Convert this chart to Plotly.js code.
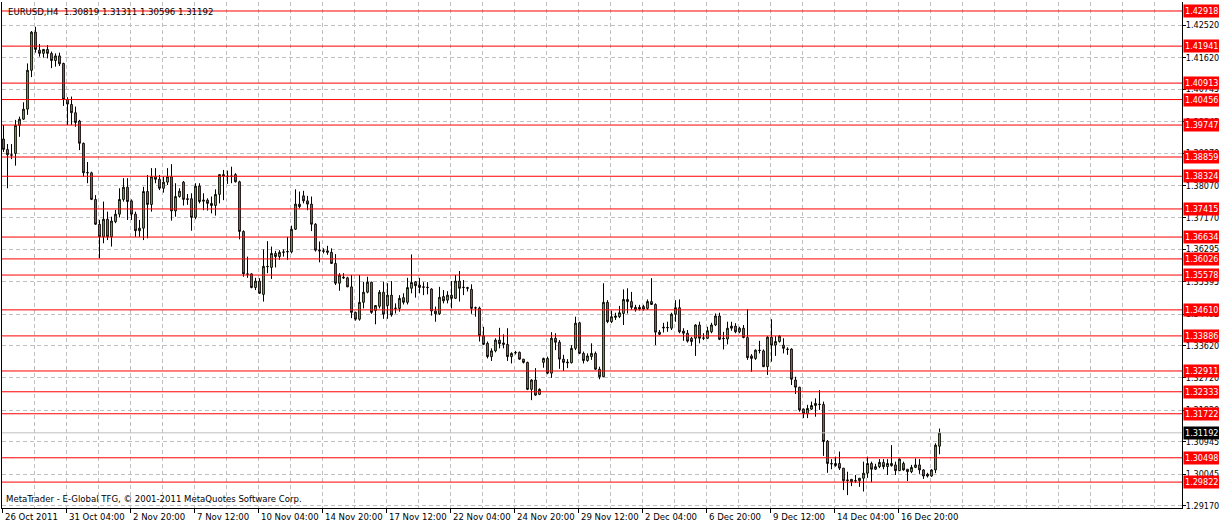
<!DOCTYPE html>
<html><head><meta charset="utf-8">
<script src="https://cdn.plot.ly/plotly-3.0.1.min.js"></script>
<style>html,body{margin:0;padding:0;background:#fff;overflow:hidden}#chart{width:1219px;height:524px}</style>
</head><body><div id="chart"></div>
<script>
const symbolTitle = "EURUSD,H4\u00a0\u00a01.30819 1.31311 1.30596 1.31192";
const footerText = "MetaTrader - E-Global TFG, \u00a9 2001-2011 MetaQuotes Software Corp.";

const openP = [1.3936,1.3907,1.3892,1.3896,1.3974,1.3991,1.4019,1.4127,1.4233,1.4183,
1.4174,1.4185,1.4174,1.4154,1.4167,1.4146,1.4046,1.4032,1.4009,1.3986,
1.3924,1.3843,1.3842,1.3768,1.3699,1.3664,1.3713,1.3664,1.3706,1.3727,
1.3768,1.3802,1.3764,1.3727,1.3681,1.3688,1.3790,1.3754,1.3831,1.3824,
1.3799,1.3816,1.3831,1.3736,1.3776,1.3816,1.3770,1.3770,1.3718,1.3805,
1.3763,1.3766,1.3757,1.3751,1.3782,1.3837,1.3833,1.3832,1.3837,1.3817,
1.3679,1.3561,1.3561,1.3523,1.3541,1.3504,1.3582,1.3579,1.3618,1.3609,
1.3621,1.3622,1.3622,1.3685,1.3755,1.3778,1.3764,1.3755,1.3699,1.3627,
1.3625,1.3625,1.3621,1.3590,1.3535,1.3552,1.3550,1.3525,1.3454,1.3435,
1.3482,1.3510,1.3538,1.3459,1.3471,1.3510,1.3473,1.3502,1.3466,1.3465,
1.3495,1.3482,1.3521,1.3539,1.3530,1.3525,1.3524,1.3519,1.3458,1.3450,
1.3498,1.3488,1.3502,1.3493,1.3541,1.3524,1.3523,1.3518,1.3467,1.3466,
1.3389,1.3368,1.3331,1.3347,1.3377,1.3369,1.3365,1.3331,1.3343,1.3343,
1.3324,1.3315,1.3240,1.3266,1.3226,1.3315,1.3326,1.3285,1.3382,1.3371,
1.3324,1.3316,1.3314,1.3354,1.3425,1.3340,1.3320,1.3331,1.3340,1.3296,
1.3275,1.3482,1.3428,1.3440,1.3442,1.3451,1.3490,1.3484,1.3468,1.3468,
1.3470,1.3465,1.3484,1.3476,1.3399,1.3413,1.3411,1.3410,1.3449,1.3467,
1.3402,1.3396,1.3382,1.3382,1.3419,1.3383,1.3382,1.3400,1.3419,1.3444,
1.3382,1.3380,1.3416,1.3416,1.3400,1.3410,1.3384,1.3333,1.3326,1.3349,
1.3347,1.3303,1.3385,1.3363,1.3373,1.3363,1.3352,1.3352,1.3266,1.3246,
1.3185,1.3172,1.3185,1.3195,1.3199,1.3198,1.3096,1.3034,1.3034,1.3034,
1.3021,1.2986,1.2990,1.2985,1.2986,1.2993,1.3007,1.3034,1.3018,1.3025,
1.3037,1.3025,1.3034,1.3030,1.3014,1.3034,1.3018,1.3011,1.3023,1.3030,
1.3016,1.3004,1.2999,1.3016,1.30819];

const highP = [1.3975,1.3922,1.3922,1.3989,1.3998,1.4038,1.4146,1.4236,1.4248,1.4200,
1.4185,1.4197,1.4179,1.4174,1.4176,1.4148,1.4052,1.4054,1.4026,1.3989,
1.3926,1.3872,1.3845,1.3780,1.3711,1.3762,1.3734,1.3720,1.3739,1.3799,
1.3827,1.3827,1.3768,1.3734,1.3711,1.3803,1.3836,1.3855,1.3855,1.3836,
1.3831,1.3855,1.3866,1.3813,1.3799,1.3819,1.3783,1.3785,1.3813,1.3813,
1.3785,1.3771,1.3776,1.3796,1.3837,1.3850,1.3848,1.3859,1.3841,1.3820,
1.3682,1.3609,1.3563,1.3550,1.3549,1.3629,1.3652,1.3637,1.3625,1.3627,
1.3629,1.3664,1.3695,1.3796,1.3790,1.3792,1.3778,1.3776,1.3702,1.3651,
1.3632,1.3639,1.3632,1.3616,1.3563,1.3563,1.3553,1.3558,1.3456,1.3558,
1.3539,1.3553,1.3539,1.3473,1.3516,1.3539,1.3535,1.3541,1.3479,1.3502,
1.3507,1.3550,1.3615,1.3541,1.3550,1.3538,1.3538,1.3521,1.3470,1.3525,
1.3516,1.3513,1.3541,1.3558,1.3569,1.3544,1.3525,1.3532,1.3470,1.3470,
1.3414,1.3373,1.3354,1.3382,1.3411,1.3393,1.3410,1.3343,1.3347,1.3345,
1.3324,1.3317,1.3268,1.3299,1.3243,1.3328,1.3331,1.3399,1.3396,1.3377,
1.3336,1.3324,1.3363,1.3442,1.3428,1.3345,1.3340,1.3368,1.3345,1.3303,
1.3535,1.3488,1.3459,1.3453,1.3472,1.3518,1.3521,1.3511,1.3475,1.3475,
1.3475,1.3490,1.3549,1.3479,1.3405,1.3425,1.3428,1.3453,1.3488,1.3490,
1.3410,1.3405,1.3386,1.3421,1.3428,1.3396,1.3414,1.3425,1.3451,1.3453,
1.3400,1.3428,1.3428,1.3424,1.3414,1.3419,1.3463,1.3338,1.3351,1.3375,
1.3351,1.3388,1.3435,1.3388,1.3391,1.3382,1.3357,1.3354,1.3275,1.3247,
1.3187,1.3197,1.3206,1.3215,1.3238,1.3206,1.3099,1.3046,1.3053,1.3067,
1.3021,1.3011,1.2990,1.3002,1.2993,1.3039,1.3053,1.3039,1.3033,1.3046,
1.3046,1.3046,1.3085,1.3039,1.3048,1.3039,1.3018,1.3030,1.3048,1.3046,
1.3018,1.3008,1.3018,1.3090,1.31311];

const lowP = [1.3900,1.3799,1.3880,1.3862,1.3942,1.3989,1.4003,1.4108,1.4176,1.4165,
1.4162,1.4160,1.4133,1.4137,1.4139,1.4028,1.3975,1.3975,1.3970,1.3905,
1.3831,1.3813,1.3766,1.3697,1.3604,1.3646,1.3655,1.3637,1.3702,1.3718,
1.3762,1.3711,1.3711,1.3664,1.3664,1.3655,1.3660,1.3734,1.3813,1.3794,
1.3787,1.3808,1.3709,1.3720,1.3773,1.3751,1.3753,1.3681,1.3713,1.3757,
1.3738,1.3737,1.3729,1.3723,1.3757,1.3766,1.3811,1.3813,1.3815,1.3657,
1.3553,1.3550,1.3521,1.3516,1.3505,1.3484,1.3563,1.3547,1.3579,1.3600,
1.3609,1.3600,1.3618,1.3683,1.3743,1.3757,1.3738,1.3680,1.3623,1.3593,
1.3618,1.3614,1.3589,1.3530,1.3514,1.3547,1.3524,1.3438,1.3431,1.3431,
1.3465,1.3507,1.3450,1.3421,1.3465,1.3436,1.3436,1.3442,1.3451,1.3456,
1.3476,1.3476,1.3507,1.3495,1.3507,1.3502,1.3504,1.3445,1.3428,1.3447,
1.3479,1.3479,1.3465,1.3491,1.3484,1.3502,1.3512,1.3450,1.3442,1.3373,
1.3363,1.3326,1.3319,1.3343,1.3354,1.3354,1.3319,1.3312,1.3337,1.3322,
1.3312,1.3238,1.3210,1.3222,1.3224,1.3300,1.3282,1.3272,1.3349,1.3297,
1.3291,1.3299,1.3312,1.3349,1.3338,1.3312,1.3317,1.3322,1.3294,1.3268,
1.3274,1.3424,1.3424,1.3433,1.3438,1.3419,1.3451,1.3461,1.3456,1.3459,
1.3459,1.3461,1.3475,1.3363,1.3391,1.3398,1.3400,1.3405,1.3428,1.3396,
1.3375,1.3370,1.3361,1.3333,1.3368,1.3377,1.3380,1.3396,1.3416,1.3377,
1.3351,1.3365,1.3403,1.3396,1.3396,1.3382,1.3322,1.3289,1.3322,1.3340,
1.3303,1.3280,1.3317,1.3333,1.3370,1.3340,1.3336,1.3252,1.3227,1.3178,
1.3160,1.3160,1.3183,1.3164,1.3183,1.3055,1.3008,1.3018,1.3025,1.3016,
1.2960,1.2946,1.2971,1.2980,1.2969,1.2956,1.2994,1.2982,1.3016,1.3021,
1.3018,1.3002,1.3025,1.3002,1.3013,1.3014,1.2985,1.3007,1.3021,1.3005,
1.2991,1.2995,1.2997,1.3007,1.30596];

const closeP = [1.3907,1.3892,1.3891,1.3974,1.3991,1.4019,1.4127,1.4233,1.4185,1.4174,
1.4185,1.4174,1.4154,1.4167,1.4145,1.4046,1.4033,1.4009,1.3982,1.3924,
1.3842,1.3842,1.3768,1.3699,1.3664,1.3713,1.3664,1.3708,1.3727,1.3768,
1.3802,1.3762,1.3727,1.3681,1.3688,1.3790,1.3754,1.3831,1.3824,1.3799,
1.3816,1.3831,1.3736,1.3776,1.3791,1.3768,1.3768,1.3718,1.3805,1.3762,
1.3766,1.3757,1.3751,1.3782,1.3837,1.3833,1.3832,1.3833,1.3817,1.3679,
1.3561,1.3560,1.3523,1.3541,1.3507,1.3582,1.3581,1.3618,1.3609,1.3621,
1.3622,1.3623,1.3685,1.3755,1.3748,1.3764,1.3755,1.3699,1.3627,1.3625,
1.3624,1.3621,1.3590,1.3535,1.3558,1.3550,1.3525,1.3454,1.3435,1.3482,
1.3510,1.3538,1.3454,1.3473,1.3510,1.3449,1.3502,1.3447,1.3465,1.3493,
1.3482,1.3523,1.3537,1.3528,1.3523,1.3524,1.3523,1.3458,1.3450,1.3496,
1.3486,1.3502,1.3493,1.3541,1.3521,1.3523,1.3521,1.3465,1.3466,1.3389,
1.3365,1.3331,1.3347,1.3377,1.3367,1.3365,1.3331,1.3340,1.3342,1.3324,
1.3315,1.3240,1.3266,1.3224,1.3240,1.3326,1.3285,1.3382,1.3371,1.3324,
1.3315,1.3314,1.3354,1.3424,1.3340,1.3320,1.3333,1.3340,1.3296,1.3275,
1.3482,1.3428,1.3442,1.3444,1.3453,1.3490,1.3484,1.3468,1.3461,1.3463,
1.3463,1.3484,1.3476,1.3399,1.3393,1.3411,1.3412,1.3449,1.3467,1.3400,
1.3396,1.3374,1.3373,1.3419,1.3382,1.3382,1.3403,1.3419,1.3444,1.3379,
1.3381,1.3410,1.3410,1.3400,1.3410,1.3384,1.3328,1.3326,1.3349,1.3348,
1.3303,1.3385,1.3363,1.3373,1.3388,1.3354,1.3351,1.3268,1.3246,1.3183,
1.3172,1.3187,1.3195,1.3201,1.3198,1.3095,1.3034,1.3033,1.3028,1.3021,
1.2986,1.2988,1.2983,1.2986,1.2993,1.3007,1.3034,1.3018,1.3025,1.3037,
1.3025,1.3034,1.3028,1.3014,1.3046,1.3016,1.3011,1.3023,1.3030,1.3016,
1.2999,1.2999,1.3016,1.3085,1.31192];

const timeLabels = ["26 Oct 2011","31 Oct 04:00","2 Nov 20:00","7 Nov 12:00","10 Nov 04:00",
"14 Nov 20:00","17 Nov 12:00","22 Nov 04:00","24 Nov 20:00","29 Nov 12:00",
"2 Dec 04:00","6 Dec 20:00","9 Dec 12:00","14 Dec 04:00","16 Dec 20:00"];

const priceTicks = [1.42520,1.41620,1.40745,1.39845,1.38970,1.38070,1.37170,1.36295,
1.35395,1.34495,1.33620,1.32720,1.31820,1.30945,1.30045,1.29170];

const levels = [1.42918,1.41941,1.40913,1.40456,1.39747,1.38859,1.38324,1.37415,1.36634,
1.36026,1.35578,1.34610,1.33886,1.32911,1.32333,1.31722,1.30498,1.29822];

const lastPrice = 1.31192;

const FONT = "'DejaVu Sans Condensed', 'DejaVu Sans', 'Liberation Sans', sans-serif";
const BARS_PER_LABEL = 16;

const barIndex = openP.map((_, i) => i);
const labelPos = timeLabels.map((_, k) => k * BARS_PER_LABEL - 0.25);

const shapes = [];
shapes.push({type:'line', xref:'paper', x0:0, x1:1, yref:'y', y0:lastPrice, y1:lastPrice,
  line:{color:'#c0c0c0', width:1}, layer:'above'});
levels.forEach(v => shapes.push({type:'line', xref:'paper', x0:0, x1:1, yref:'y', y0:v, y1:v,
  line:{color:'#ff0000', width:1}, layer:'above'}));

const annotations = [];
annotations.push({xref:'paper', yref:'paper', x:0, y:1, xanchor:'left', yanchor:'top', xshift:4, yshift:-2,
  text:symbolTitle, showarrow:false, font:{family:FONT, size:9.5, color:'#000'}});
annotations.push({xref:'paper', yref:'paper', x:0, y:0, xanchor:'left', yanchor:'bottom', xshift:2, yshift:2,
  text:footerText, showarrow:false, font:{family:FONT, size:9.5, color:'#000'}});
timeLabels.forEach((t, k) => annotations.push({xref:'x', yref:'paper', x:labelPos[k], y:0,
  xanchor:'left', yanchor:'top', yshift:-1, text:t, showarrow:false,
  font:{family:FONT, size:9.5, color:'#000'}}));
levels.forEach(v => annotations.push({xref:'paper', yref:'y', x:1, y:v, xanchor:'left', yanchor:'middle',
  xshift:1, text:v.toFixed(5), showarrow:false, bgcolor:'#ff0000', borderpad:1,
  font:{family:FONT, size:9, color:'#ffffff'}}));
annotations.push({xref:'paper', yref:'y', x:1, y:lastPrice, xanchor:'left', yanchor:'middle',
  xshift:1, text:lastPrice.toFixed(5), showarrow:false, bgcolor:'#000000', borderpad:1,
  font:{family:FONT, size:9, color:'#ffffff'}});

const trace = {
  type:'candlestick', x:barIndex, open:openP, high:highP, low:lowP, close:closeP,
  increasing:{line:{color:'#000000', width:1}, fillcolor:'#7cfc00'},
  decreasing:{line:{color:'#000000', width:1}, fillcolor:'#e9735c'},
  whiskerwidth:0, hoverinfo:'skip', showlegend:false
};

const GRID = {color:'#c0c0c0', dash:'4px,3px'};

const layout = {
  width:1219, height:524,
  margin:{l:2, r:37, t:2, b:16, pad:0},
  paper_bgcolor:'#ffffff', plot_bgcolor:'#ffffff',
  showlegend:false, boxgap:0.4,
  font:{family:FONT, size:9.5, color:'#000'},
  xaxis:{
    type:'linear', range:[-0.375, 294.625], rangeslider:{visible:false},
    tickmode:'array', tickvals:labelPos, showticklabels:false,
    ticks:'outside', ticklen:4, tickcolor:'#000', tickwidth:1,
    showgrid:true, gridcolor:GRID.color, griddash:GRID.dash, gridwidth:1,
    minor:{tickmode:'linear', tick0:-0.25, dtick:8, showgrid:true, gridcolor:GRID.color, griddash:GRID.dash, gridwidth:1, ticks:''},
    showline:true, linecolor:'#000', linewidth:1, zeroline:false, fixedrange:true
  },
  yaxis:{
    side:'right', range:[1.29102, 1.43168],
    tickmode:'array', tickvals:priceTicks, ticktext:priceTicks.map(v => v.toFixed(5)),
    ticks:'outside', ticklen:3, tickcolor:'#000', tickwidth:1, ticklabelstandoff:-2,
    showgrid:true, gridcolor:GRID.color, griddash:GRID.dash, gridwidth:1,
    showline:true, linecolor:'#000', linewidth:1, mirror:true, zeroline:false,
    tickfont:{family:FONT, size:9, color:'#000'}, fixedrange:true
  },
  shapes:shapes, annotations:annotations
};

Plotly.newPlot('chart', [trace], layout, {staticPlot:true, displayModeBar:false});
</script>
</body></html>
